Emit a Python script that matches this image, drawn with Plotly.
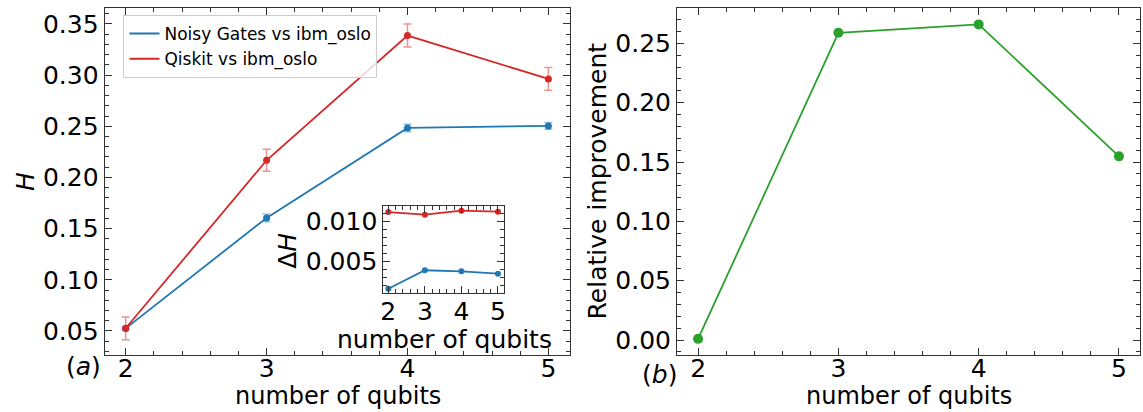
import plotly.graph_objects as go

# ---------------- data ----------------
qubits = [2, 3, 4, 5]
H_noisy = [0.0525, 0.1605, 0.2484, 0.2504]
H_qiskit = [0.0526, 0.2168, 0.3387, 0.2963]
dH_noisy = [0.00154, 0.00384, 0.00371, 0.00341]
dH_qiskit = [0.01112, 0.01079, 0.01129, 0.01116]
rel_improvement = [0.001, 0.2589, 0.2660, 0.1548]

legend_names = ["Noisy Gates vs ibm_oslo", "Qiskit vs ibm_oslo"]
x_ticks = [2, 3, 4, 5]

BLUE = "#1f77b4"
RED = "#d62728"
GREEN = "#2ca02c"
FONT = "DejaVu Sans"
W, H = 1143, 412
FS = 25

fig = go.Figure()

# main panel (a)
fig.add_trace(go.Scatter(
    x=qubits, y=H_noisy, mode="lines+markers", showlegend=False,
    line=dict(color=BLUE, width=1.8), marker=dict(color=BLUE, size=7),
    error_y=dict(type="data", array=dH_noisy, color="rgba(31,119,180,0.45)",
                 thickness=1.5, width=4),
    xaxis="x", yaxis="y"))
fig.add_trace(go.Scatter(
    x=qubits, y=H_qiskit, mode="lines+markers", showlegend=False,
    line=dict(color=RED, width=1.8), marker=dict(color=RED, size=7),
    error_y=dict(type="data", array=dH_qiskit, color="rgba(214,39,40,0.5)",
                 thickness=1.5, width=4),
    xaxis="x", yaxis="y"))
# legend entries (line only, as in the reference)
fig.add_trace(go.Scatter(x=[None], y=[None], mode="lines", name=legend_names[0],
                         line=dict(color=BLUE, width=2), xaxis="x", yaxis="y"))
fig.add_trace(go.Scatter(x=[None], y=[None], mode="lines", name=legend_names[1],
                         line=dict(color=RED, width=2), xaxis="x", yaxis="y"))

# inset
fig.add_trace(go.Scatter(
    x=qubits, y=dH_qiskit, mode="lines+markers", showlegend=False, cliponaxis=False,
    line=dict(color=RED, width=1.8), marker=dict(color=RED, size=6),
    xaxis="x3", yaxis="y3"))
fig.add_trace(go.Scatter(
    x=qubits, y=dH_noisy, mode="lines+markers", showlegend=False, cliponaxis=False,
    line=dict(color=BLUE, width=1.8), marker=dict(color=BLUE, size=6),
    xaxis="x3", yaxis="y3"))

# panel (b)
fig.add_trace(go.Scatter(
    x=qubits, y=rel_improvement, mode="lines+markers", showlegend=False,
    cliponaxis=False,
    line=dict(color=GREEN, width=1.8), marker=dict(color=GREEN, size=10),
    xaxis="x2", yaxis="y2"))


def px_x(p):
    return p / W


def px_y(p):
    return 1 - p / H


common = dict(
    showgrid=False, zeroline=False, showline=True, linecolor="#333", linewidth=1,
    mirror="ticks", ticks="inside", ticklen=7, tickwidth=1, tickcolor="#333",
)


def xax(domain, anchor, rng, minor=0.2, standoff=0):
    d = dict(common)
    d.update(domain=domain, anchor=anchor, range=rng, tickmode="array",
             tickvals=x_ticks, ticktext=[str(v) for v in x_ticks],
             tickfont=dict(family=FONT, size=FS, color="black"),
             ticklabelstandoff=standoff,
             minor=dict(ticks="inside", dtick=minor, tick0=0, ticklen=4,
                        tickcolor="#333", showgrid=False))
    return d


def yax(domain, anchor, rng, dtick, fmt, minor):
    d = dict(common)
    d.update(domain=domain, anchor=anchor, range=rng, tick0=0, dtick=dtick,
             tickformat=fmt, tickfont=dict(family=FONT, size=FS, color="black"),
             minor=dict(ticks="inside", dtick=minor, tick0=0, ticklen=4,
                        tickcolor="#333", showgrid=False))
    return d


ydom = [px_y(355), px_y(8)]

fig.update_layout(
    width=W, height=H, margin=dict(l=0, r=0, t=0, b=0),
    paper_bgcolor="white", plot_bgcolor="white",
    font=dict(family=FONT, color="black"),
    xaxis=xax([px_x(102), px_x(569)], "y", [1.85, 5.15], standoff=-9),
    yaxis=yax(ydom, "x", [0.0265, 0.3656], 0.05, ".2f", 0.01),
    xaxis2=xax([px_x(677), px_x(1142)], "y2", [1.85, 5.15], standoff=-9),
    yaxis2=yax(ydom, "x2", [-0.0126, 0.2798], 0.05, ".2f", 0.01),
    xaxis3=xax([px_x(382), px_x(503)], "y3", [1.864, 5.16], standoff=-4),
    yaxis3=yax([px_y(293), px_y(206)], "x3", [0.001, 0.011875], 0.005, ".3f", 0.001),
    legend=dict(x=px_x(121), y=px_y(15), xanchor="left", yanchor="top",
                bgcolor="rgba(255,255,255,0.8)", bordercolor="#cccccc", borderwidth=1,
                font=dict(family=FONT, size=17, color="black"),
                itemwidth=30, tracegroupgap=0),
)

ann = []


def text(x, y, s, size=FS, angle=0, xanchor="center", yanchor="middle"):
    ann.append(dict(x=px_x(x), y=px_y(y), xref="paper", yref="paper", text=s,
                    showarrow=False, textangle=angle, xanchor=xanchor, yanchor=yanchor,
                    font=dict(family=FONT, size=size, color="black")))


text(336, 412, "number of qubits", size=24, yanchor="bottom")
text(910, 412, "number of qubits", size=24, yanchor="bottom")
text(443, 339, "number of qubits")
text(22, 181, "<i>H</i>", angle=-90)
text(597, 181, "Relative improvement", angle=-90)
text(286, 251, "Δ<i>H</i>", angle=-90)
text(81, 366, "(<i>a</i>)")
text(659, 374, "(<i>b</i>)")

fig.update_layout(annotations=ann)

fig.write_html("out.html")
